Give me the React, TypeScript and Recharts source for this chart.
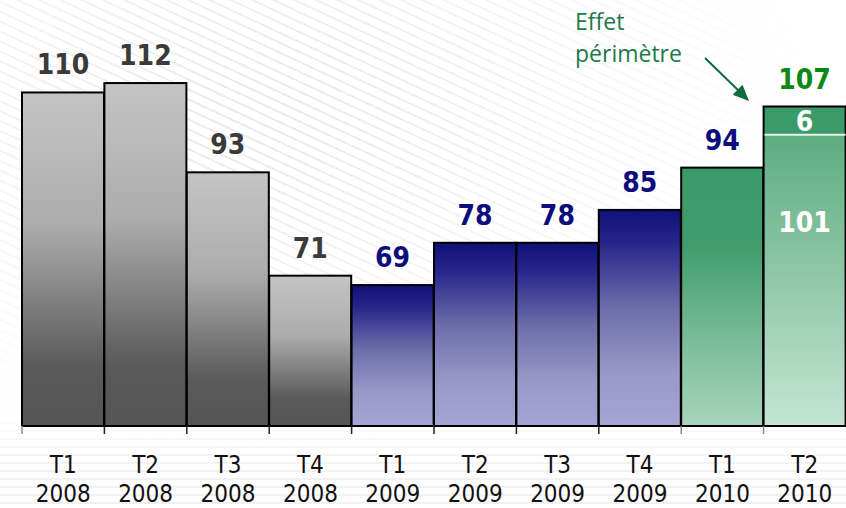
import React from 'react';
import { BarChart, Bar, XAxis, YAxis, LabelList } from 'recharts';

const quarters = ['T1', 'T2', 'T3', 'T4', 'T1', 'T2', 'T3', 'T4', 'T1', 'T2'];
const years = ['2008', '2008', '2008', '2008', '2009', '2009', '2009', '2009', '2010', '2010'];
const baseValues = [110, 112, 93, 71, 69, 78, 78, 85, 94, 101];
const perimetreValues = [0, 0, 0, 0, 0, 0, 0, 0, 0, 6];

const data = quarters.map((q, i) => ({
  name: `${q} ${years[i]}`,
  q,
  year: years[i],
  base: baseValues[i],
  perim: perimetreValues[i],
  total: baseValues[i] + perimetreValues[i],
}));

const W = 846;
const H = 508;
const ML = 22;
const HALF_BAND = (W - ML) / data.length / 2;

const labelFont: React.CSSProperties = {
  fontFamily: '"DejaVu Sans Condensed", "DejaVu Sans", sans-serif',
  fontWeight: 'bold',
  fontSize: 28,
};
const tickFont: React.CSSProperties = {
  fontFamily: '"DejaVu Sans Condensed", "DejaVu Sans", sans-serif',
  fontSize: 24,
};
const noteFont: React.CSSProperties = {
  fontFamily: '"Open Sans", "DejaVu Sans", sans-serif',
  fontSize: 23,
};

const fillFor = (i: number) => {
  const d = data[i];
  if (d.year === '2008') return 'url(#gGray)';
  if (d.year === '2009') return 'url(#gBlue)';
  return d.perim > 0 ? 'url(#gGreen2)' : 'url(#gGreen1)';
};
const labelColor = (i: number) => {
  const d = data[i];
  if (d.year === '2008') return '#3a3a3a';
  if (d.perim > 0) return '#0a8a14';
  return '#0d0d7d';
};

const BaseShape = (p: any) => {
  const { x, y, width, height, index } = p;
  const d = data[index];
  const fill = fillFor(index);
  if (d.perim > 0) {
    return (
      <g>
        <rect x={x} y={y} width={width} height={height} fill={fill} />
        <path d={`M${x},${y} V${y + height} H${x + width} V${y}`} stroke="#000" strokeWidth={2} fill="none" />
      </g>
    );
  }
  return <rect x={x} y={y} width={width} height={height} fill={fill} stroke="#000" strokeWidth={2} />;
};

const PerimShape = (p: any) => {
  const { x, y, width, height } = p;
  if (!height || height <= 0) return <g />;
  return (
    <g>
      <rect x={x} y={y} width={width} height={height} fill="#3a9a68" />
      <path d={`M${x},${y + height} V${y} H${x + width} V${y + height}`} stroke="#000" strokeWidth={2} fill="none" />
      <line x1={x + 1} x2={x + width} y1={y + height} y2={y + height} stroke="#e6f3ec" strokeWidth={2} />
    </g>
  );
};

const getBox = (p: any) => {
  const vb = p.viewBox || {};
  return {
    x: p.x ?? vb.x,
    y: p.y ?? vb.y,
    width: p.width ?? vb.width,
    height: p.height ?? vb.height,
  };
};

const BaseLabel = (p: any) => {
  const { index, value } = p;
  const { x, y, width } = getBox(p);
  const d = data[index];
  const cx = x + width / 2;
  if (d.perim > 0) {
    return (
      <text x={cx} y={y + 97} textAnchor="middle" fill="#ffffff" style={labelFont}>
        {value}
      </text>
    );
  }
  return (
    <text x={cx} y={y - 18} textAnchor="middle" fill={labelColor(index)} style={labelFont}>
      {value}
    </text>
  );
};

const PerimLabel = (p: any) => {
  const { index, value } = p;
  const { x, y, width, height } = getBox(p);
  const d = data[index];
  if (!d || d.perim <= 0) return null;
  const cx = x + width / 2;
  return (
    <g>
      <text x={cx} y={y + height / 2 + 10} textAnchor="middle" fill="#ffffff" style={labelFont}>
        {value}
      </text>
      <text x={cx} y={y - 18} textAnchor="middle" fill={labelColor(index)} style={labelFont}>
        {d.total}
      </text>
    </g>
  );
};

const Tick = (p: any) => {
  const { x, y, payload } = p;
  const i = payload.index ?? p.index;
  const d = data[i];
  const lx = x - HALF_BAND;
  return (
    <g>
      <line x1={lx} x2={lx} y1={y} y2={y + 8} stroke={i >= 8 || i === 0 ? '#8a8a8a' : '#222'} strokeWidth={1.5} />
      <text x={x} y={y + 47} textAnchor="middle" fill="#111" style={tickFont}>
        {d.q}
      </text>
      <text x={x} y={y + 76} textAnchor="middle" fill="#111" style={tickFont}>
        {d.year}
      </text>
    </g>
  );
};

export default function App() {
  return (
    <div style={{ position: 'absolute', left: 0, top: 0, width: W, height: H, background: '#fff', overflow: 'hidden' }}>
      <div
        style={{
          position: 'absolute',
          left: 0,
          top: 0,
          width: W,
          height: H,
          background: 'repeating-linear-gradient(205deg, #ffffff 0px, #ffffff 7px, #e8e8e8 7px, #e8e8e8 9px)',
          WebkitMaskImage: 'radial-gradient(ellipse 560px 340px at 260px 110px, rgba(0,0,0,0.9), rgba(0,0,0,0) 100%)',
          maskImage: 'radial-gradient(ellipse 560px 340px at 260px 110px, rgba(0,0,0,0.9), rgba(0,0,0,0) 100%)',
        }}
      />
      <div
        style={{
          position: 'absolute',
          left: 0,
          top: 0,
          width: W,
          height: H,
          background: 'repeating-linear-gradient(180deg, #ffffff 0px, #ffffff 6px, #eeeeee 6px, #eeeeee 8px)',
          WebkitMaskImage: 'linear-gradient(180deg, rgba(0,0,0,0) 410px, rgba(0,0,0,0.8) 470px)',
          maskImage: 'linear-gradient(180deg, rgba(0,0,0,0) 410px, rgba(0,0,0,0.8) 470px)',
        }}
      />
      <div style={{ position: 'absolute', left: 0, top: 0 }}>
        <BarChart width={W} height={H} data={data} margin={{ top: 22, right: 0, bottom: 0, left: ML }} barCategoryGap={0}>
          <defs>
            <linearGradient id="gGray" x1="0" y1="0" x2="0" y2="1">
              <stop offset="0" stopColor="#c4c4c4" />
              <stop offset="0.4" stopColor="#acacac" />
              <stop offset="0.82" stopColor="#5a5a5a" />
              <stop offset="1" stopColor="#555555" />
            </linearGradient>
            <linearGradient id="gBlue" x1="0" y1="0" x2="0" y2="1">
              <stop offset="0" stopColor="#10107a" />
              <stop offset="0.15" stopColor="#25258a" />
              <stop offset="0.45" stopColor="#6c6caa" />
              <stop offset="0.75" stopColor="#9898c8" />
              <stop offset="1" stopColor="#a6a6d6" />
            </linearGradient>
            <linearGradient id="gGreen1" x1="0" y1="0" x2="0" y2="1">
              <stop offset="0" stopColor="#3b9a69" />
              <stop offset="0.3" stopColor="#3f9d6c" />
              <stop offset="0.7" stopColor="#7fbf9b" />
              <stop offset="1" stopColor="#a8d5bd" />
            </linearGradient>
            <linearGradient id="gGreen2" x1="0" y1="0" x2="0" y2="1">
              <stop offset="0" stopColor="#5eac80" />
              <stop offset="1" stopColor="#c4e5d3" />
            </linearGradient>
          </defs>
          <XAxis
            dataKey="name"
            interval={0}
            height={82}
            tickSize={0}
            tickMargin={0}
            tickLine={false}
            axisLine={{ stroke: '#000', strokeWidth: 2 }}
            tick={<Tick />}
          />
          <YAxis hide type="number" domain={[39, 125]} allowDataOverflow />
          <Bar dataKey="base" stackId="a" isAnimationActive={false} shape={<BaseShape />}>
            <LabelList dataKey="base" content={<BaseLabel />} />
          </Bar>
          <Bar dataKey="perim" stackId="a" isAnimationActive={false} shape={<PerimShape />}>
            <LabelList dataKey="perim" content={<PerimLabel />} />
          </Bar>
        </BarChart>
      </div>
      <svg width={W} height={H} style={{ position: 'absolute', left: 0, top: 0, pointerEvents: 'none' }}>
        <text x={575} y={30} fill="#1e7a4c" style={noteFont}>
          Effet
        </text>
        <text x={575} y={62} fill="#1e7a4c" style={noteFont}>
          périmètre
        </text>
        <line x1={705} y1={58} x2={740} y2={92} stroke="#0e6b3e" strokeWidth={2} />
        <polygon points="749,101 732.7,94.8 742.5,84.8" fill="#0e6b3e" />
      </svg>
    </div>
  );
}
